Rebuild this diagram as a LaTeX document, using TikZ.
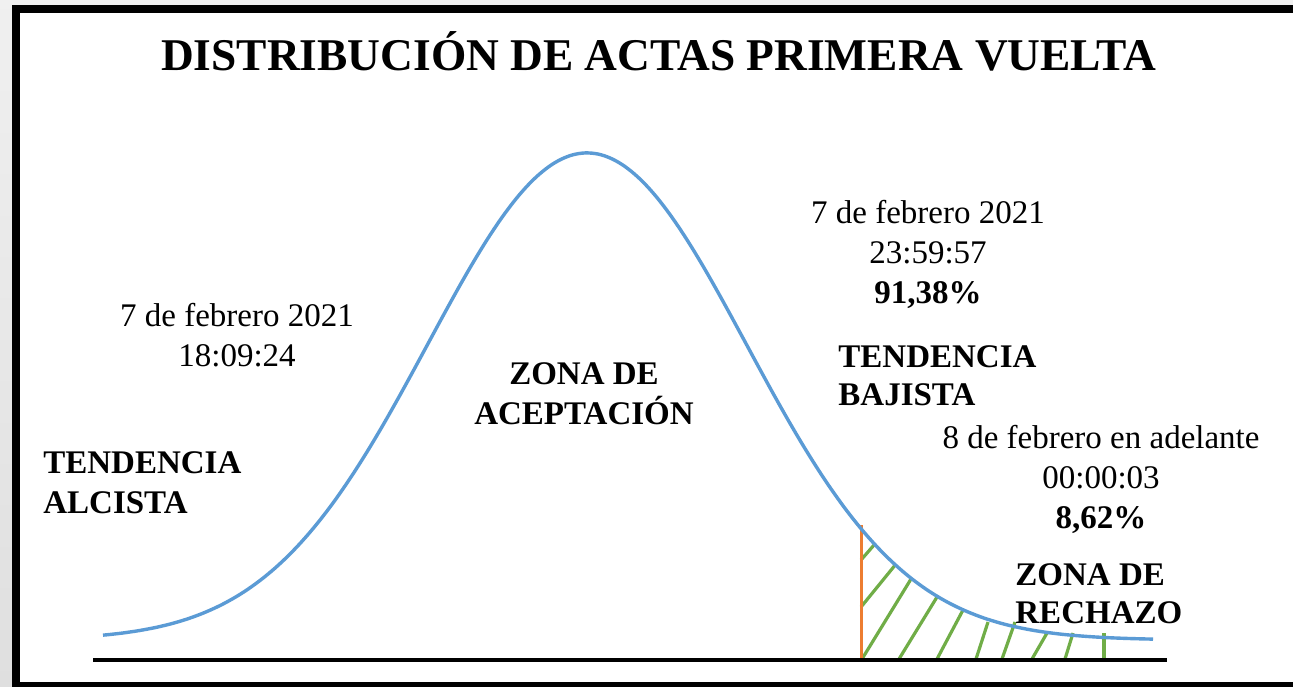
\documentclass[tikz,border=0pt]{standalone}
\usepackage{fontspec}
\setmainfont{Liberation Serif}
\usepackage{tikz}
\usetikzlibrary{positioning}
\usepackage{xcolor}
\definecolor{bellblue}{HTML}{5B9BD5}
\definecolor{cutorange}{HTML}{ED7D31}
\definecolor{hatchgreen}{HTML}{70AD47}

\begin{document}
\begin{tikzpicture}[
    x=0.5pt, y=-0.5pt,
    titletext/.style={inner sep=0pt, font=\fontsize{22.7}{27}\selectfont\bfseries},
    datetext/.style={inner sep=0pt, align=center, font=\fontsize{16.5}{20}\selectfont},
    zonetext/.style={inner sep=0pt, align=left, font=\fontsize{16.5}{20}\selectfont\bfseries},
    bell/.style={bellblue, line width=1.7pt},
    hatch/.style={hatchgreen, line width=1.6pt}
]
  \useasboundingbox (0,0) rectangle (1293,686);

  % Background and frame
  \fill[top color=gray!12, bottom color=gray!25] (0,0) rectangle (1293,686);
  \draw[line width=3.75pt, fill=white] (16,9) rectangle (1310,686);

  % Rejection area
  \foreach \xa/\ya/\xb/\yb in {861/560/874/545, 861/607/896/564, 862/659/911/579,
      899/659/937/597, 937/659/963/610, 976/659/988/622, 1002/659/1015/622,
      1032/659/1047/633, 1065/659/1073/633, 1104/659/1104/633}
    \draw[hatch] (\xa,\ya) -- (\xb,\yb);
  \draw[cutorange, line width=1.5pt] (861,525) -- (861,660);

  % Bell curve and axis
  \draw[bell, domain=103:1153, samples=160, smooth]
    plot (\x, {640-487*exp(-0.5*((\x-587)/159.5)^2)});
  \draw[line width=2pt] (93,660) -- (1167,660);

  % Labels (anchored on the last line)
  \node[titletext, anchor=base] (titulo) at (659,70) {DISTRIBUCIÓN DE ACTAS PRIMERA VUELTA};
  \node[datetext, anchor=base] (inicio) at (237,366) {7 de febrero 2021\\18:09:24};
  \node[zonetext, anchor=base west] (alcista) at (43,513) {TENDENCIA\\ALCISTA};
  \node[zonetext, align=center, anchor=base] (aceptacion) at (584,424) {ZONA DE\\ACEPTACIÓN};
  \node[datetext, anchor=base] (corte) at (928,303) {7 de febrero 2021\\23:59:57\\\textbf{91,38\%}};
  \node[zonetext, anchor=base west] (bajista) at (838,405) {TENDENCIA\\[-1pt]BAJISTA};
  \node[datetext, anchor=base] (final) at (1101,528) {8 de febrero en adelante\\00:00:03\\\textbf{8,62\%}};
  \node[zonetext, anchor=base west] (rechazo) at (1015,623) {ZONA DE\\[-1pt]RECHAZO};
\end{tikzpicture}
\end{document}
